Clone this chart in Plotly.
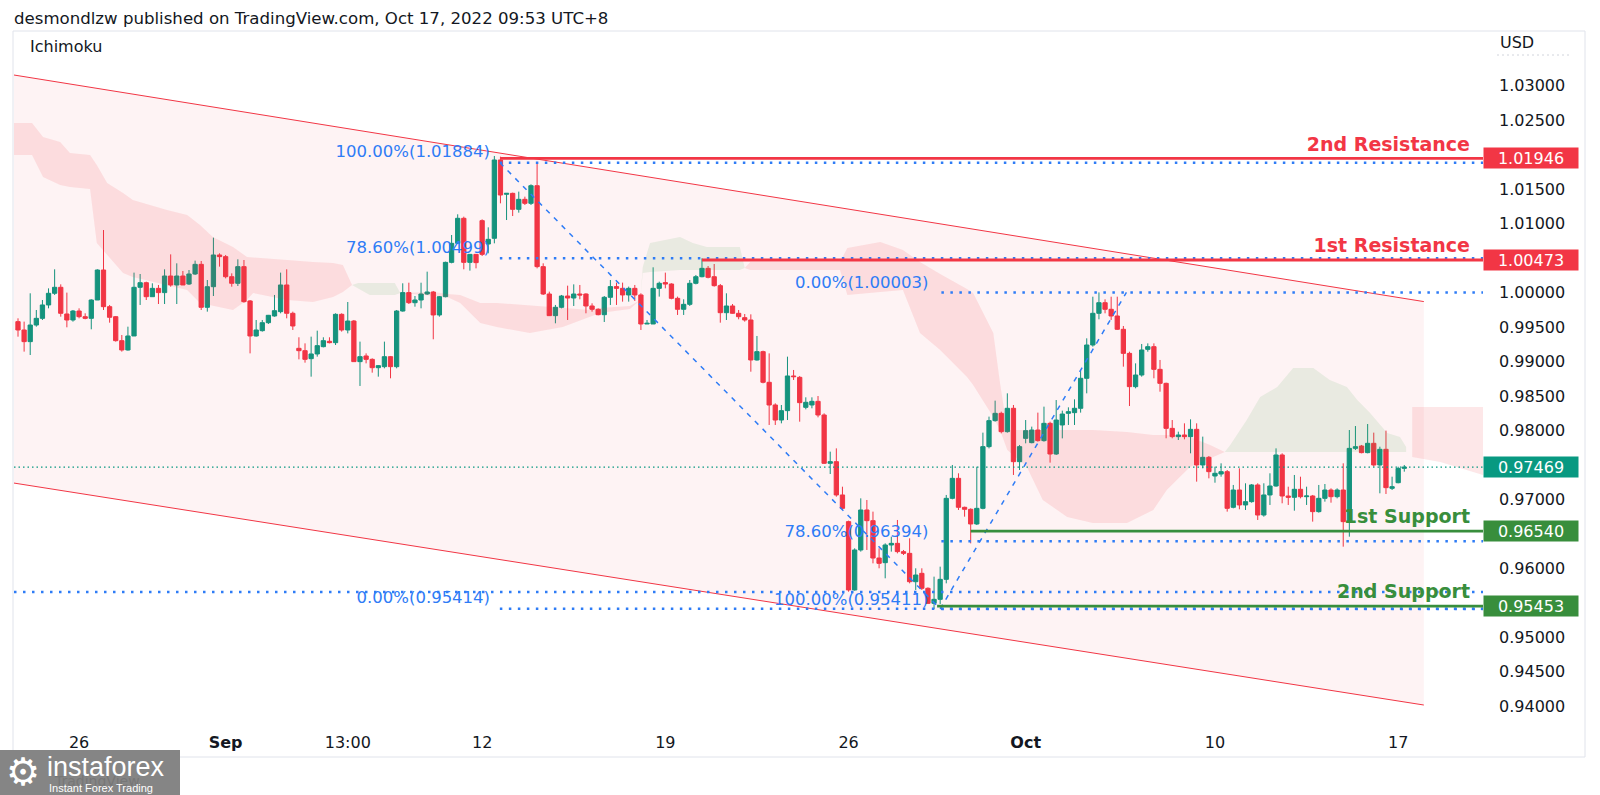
import plotly.graph_objects as go

# ---------------- data (EURUSD 4H, bar index 0..227) ----------------
opens = [
    0.99579, 0.99458, 0.99289, 0.99530, 0.99627, 0.99821, 0.99990, 1.00077, 0.99690, 0.99603,
    0.99733, 0.99651, 0.99627, 0.99893, 1.00328, 0.99796, 0.99651, 0.99303, 0.99168, 0.99371,
    1.00077, 1.00144, 0.99941, 1.00062, 1.00000, 1.00241, 1.00111, 1.00241, 1.00125, 1.00270,
    1.00410, 0.99787, 1.00086, 1.00546, 1.00522, 1.00231, 1.00135, 1.00377, 0.99879, 0.99371,
    0.99448, 0.99564, 0.99661, 0.99724, 1.00111, 0.99700, 0.99192, 0.99158, 0.99042, 0.99110,
    0.99216, 0.99294, 0.99274, 0.99685, 0.99458, 0.99588, 0.98999, 0.99081, 0.99032, 0.98911,
    0.98926, 0.99071, 0.98926, 0.99733, 1.00000, 0.99854, 0.99893, 0.99980, 1.00009, 0.99676,
    0.99941, 1.00439, 1.00715, 1.01078, 1.00439, 1.00555, 1.01044, 1.00705, 1.00788, 1.01924,
    1.01426, 1.01440, 1.01208, 1.01353, 1.01295, 1.01551, 1.00377, 0.99980, 0.99666, 0.99787,
    0.99951, 0.99922, 0.99980, 0.99980, 0.99806, 0.99758, 0.99680, 0.99932, 1.00087, 1.00062,
    0.99966, 1.00062, 0.99966, 0.99545, 0.99545, 1.00062, 1.00145, 1.00125, 0.99917, 0.99758,
    0.99830, 1.00135, 1.00231, 1.00352, 1.00231, 1.00101, 0.99709, 0.99806, 0.99700, 0.99637,
    0.99603, 0.99023, 0.99144, 0.98699, 0.98370, 0.98152, 0.98288, 0.98791, 0.98771, 0.98336,
    0.98370, 0.98423, 0.98225, 0.97524, 0.97548, 0.97065, 0.96678, 0.95687, 0.96267, 0.96847,
    0.96692, 0.96150, 0.96083, 0.96339, 0.96363, 0.96243, 0.96218, 0.95807, 0.95928, 0.95711,
    0.95493, 0.95551, 0.95841, 0.97016, 0.97306, 0.96886, 0.96857, 0.96644, 0.96871, 0.97766,
    0.98143, 0.98249, 0.97983, 0.98322, 0.97548, 0.97886, 0.97824, 0.98007, 0.97853, 0.98104,
    0.97659, 0.98080, 0.98249, 0.98259, 0.98322, 0.98757, 0.99240, 0.99700, 0.99854, 0.99758,
    0.99661, 0.99468, 0.99119, 0.98636, 0.98805, 0.99177, 0.99216, 0.98887, 0.98684, 0.98031,
    0.97911, 0.97935, 0.97911, 0.98017, 0.97500, 0.97611, 0.97340, 0.97369, 0.97403, 0.96886,
    0.97137, 0.96920, 0.96968, 0.97210, 0.96774, 0.97065, 0.97195, 0.97645, 0.97050, 0.97031,
    0.97147, 0.97040, 0.97050, 0.96823, 0.97016, 0.97137, 0.97040, 0.97137, 0.96678, 0.97741,
    0.97775, 0.97679, 0.97814, 0.97500, 0.97727, 0.97161, 0.97243, 0.97451,
]
highs = [
    0.99627, 0.99579, 0.99990, 0.99748, 0.99893, 1.00062, 1.00338, 1.00120, 1.00000, 0.99748,
    0.99772, 0.99700, 0.99903, 1.00338, 1.00908, 0.99821, 0.99661, 0.99385, 0.99506, 1.00290,
    1.00270, 1.00159, 1.00135, 1.00111, 1.00338, 1.00555, 1.00425, 1.00314, 1.00328, 1.00464,
    1.00459, 1.00183, 1.00797, 1.00570, 1.00546, 1.00280, 1.00483, 1.00473, 0.99893, 0.99603,
    0.99603, 0.99676, 0.99966, 1.00290, 1.00338, 0.99724, 0.99352, 0.99264, 0.99361, 0.99448,
    0.99352, 0.99352, 0.99700, 0.99700, 0.99864, 0.99603, 0.99289, 0.99119, 0.99047, 0.98950,
    0.99289, 0.99081, 0.99748, 1.00135, 1.00144, 0.99951, 1.00144, 1.00304, 1.00024, 0.99951,
    1.00449, 1.00836, 1.01136, 1.01102, 1.00555, 1.00560, 1.01063, 1.00947, 1.01982, 1.01972,
    1.01440, 1.01450, 1.01465, 1.01392, 1.01571, 1.01885, 1.00425, 1.00014, 0.99821, 0.99966,
    1.00101, 1.00120, 1.00111, 0.99990, 0.99845, 0.99772, 0.99951, 1.00183, 1.00145, 1.00145,
    1.00087, 1.00111, 0.99990, 0.99603, 1.00367, 1.00159, 1.00290, 1.00135, 0.99942, 0.99903,
    1.00183, 1.00256, 1.00497, 1.00386, 1.00415, 1.00125, 0.99990, 0.99835, 0.99748, 0.99690,
    0.99685, 0.99371, 0.99158, 0.99119, 0.98394, 0.98370, 0.99071, 0.98878, 0.98791, 0.98481,
    0.98481, 0.98500, 0.98249, 0.97693, 0.97741, 0.97185, 0.96692, 0.96291, 0.97016, 0.96992,
    0.96823, 0.96291, 0.96363, 0.96460, 0.96702, 0.96267, 0.96436, 0.96001, 0.96001, 0.95725,
    0.95880, 0.96025, 0.97065, 0.97500, 0.97379, 0.96895, 0.96871, 0.97475, 0.97969, 0.98201,
    0.98433, 0.98273, 0.98539, 0.98370, 0.97790, 0.98152, 0.98056, 0.98259, 0.98346, 0.98128,
    0.98442, 0.98288, 0.98336, 0.98452, 0.98878, 0.99337, 0.99941, 1.00003, 0.99903, 0.99941,
    0.99941, 0.99516, 0.99143, 0.98974, 0.99255, 0.99264, 0.99264, 0.99023, 0.98694, 0.98152,
    0.97983, 0.98104, 0.98162, 0.98104, 0.97911, 0.97630, 0.97475, 0.97524, 0.97427, 0.97210,
    0.97451, 0.97234, 0.97224, 0.97234, 0.97234, 0.97379, 0.97741, 0.97669, 0.97185, 0.97355,
    0.97330, 0.97185, 0.97065, 0.97210, 0.97224, 0.97161, 0.97161, 0.97524, 0.98007, 0.98065,
    0.97790, 0.98094, 0.97969, 0.97765, 0.97998, 0.97330, 0.97475, 0.97500,
]
lows = [
    0.99361, 0.99144, 0.99095, 0.99506, 0.99603, 0.99772, 0.99966, 0.99651, 0.99497, 0.99579,
    0.99627, 0.99613, 0.99468, 0.99893, 0.99748, 0.99564, 0.99289, 0.99144, 0.99158, 0.99371,
    0.99821, 0.99893, 0.99941, 0.99835, 0.99835, 1.00086, 0.99835, 1.00111, 1.00111, 1.00256,
    0.99748, 0.99724, 0.99951, 1.00377, 1.00207, 1.00086, 1.00096, 0.99854, 0.99119, 0.99361,
    0.99434, 0.99545, 0.99651, 0.99700, 0.99627, 0.99458, 0.99032, 0.98984, 0.98781, 0.99071,
    0.99206, 0.99264, 0.99240, 0.99434, 0.99409, 0.98999, 0.98646, 0.98974, 0.98839, 0.98781,
    0.98902, 0.98757, 0.98902, 0.99724, 0.99835, 0.99796, 0.99772, 0.99966, 0.99323, 0.99651,
    0.99932, 1.00425, 1.00715, 1.00338, 1.00319, 1.00352, 1.00531, 1.00570, 1.00715, 1.01295,
    1.01053, 1.01111, 1.01160, 1.01271, 1.01271, 1.00352, 0.99966, 0.99661, 0.99555, 0.99772,
    0.99603, 0.99806, 0.99903, 0.99700, 0.99724, 0.99671, 0.99574, 0.99821, 0.99821, 0.99869,
    0.99869, 0.99879, 0.99458, 0.99545, 0.99545, 0.99942, 1.00062, 0.99903, 0.99676, 0.99676,
    0.99806, 1.00120, 1.00222, 1.00207, 1.00087, 0.99564, 0.99603, 0.99695, 0.99613, 0.99579,
    0.98853, 0.99013, 0.98684, 0.98080, 0.98080, 0.98104, 0.98152, 0.98733, 0.98128, 0.98307,
    0.98322, 0.98191, 0.97515, 0.97369, 0.97040, 0.96847, 0.95662, 0.95677, 0.96243, 0.96267,
    0.96073, 0.96001, 0.95856, 0.96243, 0.96218, 0.96194, 0.95783, 0.95687, 0.95687, 0.95483,
    0.95411, 0.95483, 0.95783, 0.97002, 0.96847, 0.96750, 0.96363, 0.96629, 0.96857, 0.97741,
    0.98128, 0.97959, 0.97969, 0.97355, 0.97427, 0.97814, 0.97814, 0.97838, 0.97838, 0.97534,
    0.97645, 0.97886, 0.98080, 0.98080, 0.98259, 0.98539, 0.99216, 0.99613, 0.99700, 0.99603,
    0.99458, 0.98926, 0.98355, 0.98612, 0.98781, 0.99143, 0.98757, 0.98563, 0.97887, 0.97887,
    0.97862, 0.97872, 0.97669, 0.97258, 0.97451, 0.97306, 0.97243, 0.97330, 0.96823, 0.96871,
    0.96857, 0.96847, 0.96953, 0.96702, 0.96750, 0.96920, 0.97185, 0.96944, 0.96920, 0.96837,
    0.97016, 0.96920, 0.96678, 0.96808, 0.96968, 0.96953, 0.97016, 0.96315, 0.96460, 0.97717,
    0.97669, 0.97669, 0.97475, 0.97089, 0.97079, 0.97137, 0.97234, 0.97403,
]
closes = [
    0.99458, 0.99289, 0.99530, 0.99627, 0.99821, 0.99990, 1.00077, 0.99700, 0.99603, 0.99733,
    0.99651, 0.99627, 0.99893, 1.00328, 0.99796, 0.99642, 0.99303, 0.99168, 0.99371, 1.00077,
    1.00144, 0.99941, 1.00062, 1.00000, 1.00241, 1.00111, 1.00241, 1.00111, 1.00270, 1.00410,
    0.99787, 1.00086, 1.00546, 1.00522, 1.00231, 1.00135, 1.00377, 0.99869, 0.99371, 0.99458,
    0.99564, 0.99671, 0.99738, 1.00111, 0.99700, 0.99516, 0.99158, 0.99032, 0.99110, 0.99231,
    0.99303, 0.99274, 0.99685, 0.99458, 0.99588, 0.98999, 0.99071, 0.99032, 0.98911, 0.98941,
    0.99071, 0.98926, 0.99733, 1.00000, 0.99854, 0.99893, 0.99980, 1.00009, 0.99676, 0.99941,
    1.00439, 1.00715, 1.01078, 1.00439, 1.00555, 1.00435, 1.00555, 1.00773, 1.01924, 1.01416,
    1.01440, 1.01208, 1.01353, 1.01295, 1.01551, 1.00377, 0.99980, 0.99666, 0.99787, 0.99951,
    0.99922, 0.99980, 0.99966, 0.99806, 0.99758, 0.99680, 0.99932, 1.00087, 1.00062, 0.99966,
    1.00062, 0.99966, 0.99545, 0.99555, 1.00062, 1.00135, 1.00125, 0.99917, 0.99758, 0.99830,
    1.00135, 1.00231, 1.00352, 1.00222, 1.00101, 0.99709, 0.99806, 0.99700, 0.99651, 0.99603,
    0.99023, 0.99144, 0.98699, 0.98370, 0.98152, 0.98288, 0.98791, 0.98781, 0.98404, 0.98409,
    0.98423, 0.98225, 0.97524, 0.97548, 0.97065, 0.96871, 0.95687, 0.96267, 0.96847, 0.96692,
    0.96150, 0.96073, 0.96339, 0.96363, 0.96243, 0.96218, 0.95807, 0.95904, 0.95711, 0.95493,
    0.95551, 0.95841, 0.97016, 0.97306, 0.96886, 0.96857, 0.96644, 0.96871, 0.97766, 0.98143,
    0.98249, 0.97983, 0.98322, 0.97548, 0.97766, 0.97998, 0.98007, 0.97853, 0.98104, 0.97659,
    0.98152, 0.98239, 0.98273, 0.98322, 0.98757, 0.99240, 0.99700, 0.99854, 0.99758, 0.99661,
    0.99468, 0.99119, 0.98636, 0.98805, 0.99168, 0.99216, 0.98887, 0.98684, 0.98031, 0.97911,
    0.97935, 0.97911, 0.98017, 0.97500, 0.97611, 0.97403, 0.97379, 0.97403, 0.96871, 0.97137,
    0.96920, 0.96968, 0.97210, 0.96774, 0.97065, 0.97195, 0.97645, 0.97050, 0.97031, 0.97147,
    0.97040, 0.97050, 0.96823, 0.97016, 0.97137, 0.97040, 0.97137, 0.96678, 0.97741, 0.97765,
    0.97679, 0.97814, 0.97500, 0.97727, 0.97171, 0.97185, 0.97451, 0.97469,
]

# Ichimoku cloud (bar index, senkou span A, senkou span B)
cloud_x = [-0.7, 2.3, 4.1, 6.9, 8.5, 11.8, 12.9, 14.6, 17.2, 18.8, 24.4, 27.7, 29.8, 31.9, 35.2,
           37.5, 38.5, 44.1, 48.3, 51.6, 53.2, 54.7, 55.7, 57.6, 61.7, 62.6, 68.0, 70.3, 72.4,
           75.7, 78.4, 83.8, 89.2, 93.7, 95.3, 100.2, 101.9, 102.3, 103.5, 108.4, 110.5, 112.8,
           118.2, 119.0, 119.9, 134.6, 135.8, 141.2, 144.9, 147.7, 151.0, 155.4, 156.4, 159.7,
           160.8, 162.0, 165.2, 167.8, 171.8, 176.0, 181.6, 185.9, 188.1, 191.9, 195.2, 197.6,
           198.5, 201.2, 203.4, 206.2, 208.8, 212.1, 214.8, 217.6, 219.3, 221.4, 224.2, 226.3,
           227.3, 228.3, 232.9, 239.9]
span_a = [1.01996, 1.01996, 1.01677, 1.01561, 1.01532, 1.01503, 1.00720, 1.00546, 1.00285, 1.00227,
          1.00111, 1.00038, 0.99850, 0.99806, 0.99748, 0.99893, 0.99995, 0.99893, 0.99864, 0.99937,
          1.00009, 1.00111, 1.00140, 1.00140, 1.00140, 0.99995, 0.99951, 0.99937, 0.99850, 0.99559,
          0.99501, 0.99414, 0.99501, 0.99646, 0.99704, 0.99762, 0.99893, 1.00372, 1.00720, 1.00807,
          1.00720, 1.00662, 1.00662, 1.00357, 1.00328, 1.00328, 0.99966, 1.00009, 1.00038, 0.99414,
          0.99168, 0.98776, 0.98660, 0.98196, 0.98007, 0.97717, 0.97471, 0.96992, 0.96746, 0.96659,
          0.96659, 0.96847, 0.97137, 0.97471, 0.97601, 0.97688, 0.97790, 0.98152, 0.98486, 0.98631,
          0.98907, 0.98907, 0.98733, 0.98631, 0.98443, 0.98254, 0.97964, 0.97906, 0.97761, 0.97616,
          0.97543, 0.97355]
span_b = [1.02460, 1.02460, 1.02257, 1.02185, 1.02025, 1.01996, 1.01851, 1.01590, 1.01445, 1.01344,
          1.01199, 1.01126, 1.00981, 1.00807, 1.00662, 1.00517, 1.00502, 1.00473, 1.00444, 1.00430,
          1.00401, 1.00111, 1.00067, 0.99966, 0.99966, 0.99995, 1.00009, 0.99980, 0.99966, 0.99850,
          0.99850, 0.99821, 0.99777, 0.99748, 0.99777, 0.99806, 0.99893, 1.00285, 1.00299, 1.00328,
          1.00328, 1.00328, 1.00328, 1.00357, 1.00444, 1.00444, 1.00647, 1.00734, 1.00618, 1.00444,
          1.00270, 1.00052, 0.99995, 0.99414, 0.98689, 0.98007, 0.98007, 0.98007, 0.98007, 0.98007,
          0.97978, 0.97935, 0.97935, 0.97906, 0.97790, 0.97688, 0.97688, 0.97688, 0.97688, 0.97688,
          0.97688, 0.97688, 0.97688, 0.97688, 0.97688, 0.97688, 0.97688, 0.97688, 0.97688, 0.98341,
          0.98341, 0.98341]

# Parallel (descending) channel
channel_x = [-0.7, 230.2]
channel_upper = [1.03157, 0.99870]
channel_lower = [0.97238, 0.94018]

# Fibonacci retracements
fib1_levels = [1.01884, 1.00499, 0.95414]
fib1_labels = ["100.00%(1.01884)", "78.60%(1.00499)", "0.00%(0.95414)"]
fib1_start = 78.9
fib1_diag_x = [78.9, 151.0]
fib1_diag_y = [1.01884, 0.95414]
fib2_levels = [1.00003, 0.96394, 0.95411]
fib2_labels = ["0.00%(1.00003)", "78.60%(0.96394)", "100.00%(0.95411)"]
fib2_start = 151.2
fib2_diag_x = [151.0, 181.5]
fib2_diag_y = [0.95411, 1.00003]
extra_dotted_level = 0.95657

# Support / resistance
res_levels = [1.01946, 1.00473]
res_names = ["2nd Resistance", "1st Resistance"]
res_start = [79.0, 112.0]
sup_levels = [0.96540, 0.95453]
sup_names = ["1st Support", "2nd Support"]
sup_start = [156.0, 150.5]
last_price = 0.97469

# Axis ticks
x_tickvals = [10, 34, 54, 76, 106, 136, 165, 196, 226]
x_ticktext = ["26", "<b>Sep</b>", "13:00", "12", "19", "26", "<b>Oct</b>", "10", "17"]
y_tickvals = [1.030, 1.025, 1.015, 1.010, 1.000, 0.995, 0.990, 0.985, 0.980, 0.970,
              0.960, 0.950, 0.945, 0.940]

# ---------------- geometry / styling ----------------
W_FIG, H_FIG = 1600, 795
L, R, T, B = 14, 1483, 31, 725
PW, PH = R - L, B - T
BAR0_PX, BAR_PX = 18.0, 6.107
REF_PRICE, REF_PX, PX_PER_UNIT = 1.03, 85.8, 6894.0
x_lo = (L - BAR0_PX) / BAR_PX
x_hi = (R - BAR0_PX) / BAR_PX
y_hi = REF_PRICE + (REF_PX - T) / PX_PER_UNIT
y_lo = REF_PRICE - (B - REF_PX) / PX_PER_UNIT
LBL_LIFT = 3.0 / PX_PER_UNIT   # lift level-name texts by ~3 px


def pxx(X):
    return (X - L) / PW


def pxy(Y):
    return (B - Y) / PH


FONT = "DejaVu Sans"
TXT = "#131722"
RED = "#f23645"
TEAL = "#089981"
GREEN = "#388e3c"
BLUE = "#2e7cf6"

fig = go.Figure()

# channel background
fig.add_trace(go.Scatter(
    x=[channel_x[0], channel_x[1], channel_x[1], channel_x[0], channel_x[0]],
    y=[channel_upper[0], channel_upper[1], channel_lower[1], channel_lower[0], channel_upper[0]],
    mode="lines", fill="toself", fillcolor="rgba(242,54,69,0.06)",
    line=dict(width=0), hoverinfo="skip"))

# cloud segments (green where span A above span B, red otherwise)
segs = []
cur, cur_sign = [], None
for k in range(len(cloud_x)):
    d = span_a[k] - span_b[k]
    s = 0 if abs(d) < 1e-9 else (1 if d > 0 else -1)
    if s == 0:
        cur.append(k)
        if cur_sign is not None:
            segs.append((cur_sign, cur))
        cur, cur_sign = [k], None
    elif cur_sign is None or cur_sign == s:
        cur.append(k)
        cur_sign = s
    else:
        segs.append((cur_sign, cur))
        cur, cur_sign = [k], s
if cur_sign is not None:
    segs.append((cur_sign, cur))

for sgn, idx in segs:
    xs = [cloud_x[k] for k in idx] + [cloud_x[k] for k in reversed(idx)]
    ys = [span_a[k] for k in idx] + [span_b[k] for k in reversed(idx)]
    col = "rgba(67,160,71,0.11)" if sgn > 0 else "rgba(242,54,69,0.12)"
    fig.add_trace(go.Scatter(x=xs, y=ys, mode="lines", fill="toself", fillcolor=col,
                             line=dict(width=0), hoverinfo="skip"))

for yy in (channel_upper, channel_lower):
    fig.add_trace(go.Scatter(x=channel_x, y=yy, mode="lines",
                             line=dict(color=RED, width=1), hoverinfo="skip"))

# last price dotted line
fig.add_trace(go.Scatter(x=[x_lo, x_hi], y=[last_price, last_price], mode="lines",
                         line=dict(color=TEAL, width=1.2, dash="1.5px,3px"), hoverinfo="skip"))

DOT = "2.5px,6.5px"
for lv in fib1_levels:
    fig.add_trace(go.Scatter(x=[fib1_start, x_hi], y=[lv, lv], mode="lines",
                             line=dict(color=BLUE, width=2.5, dash=DOT), hoverinfo="skip"))
for lv in fib2_levels:
    fig.add_trace(go.Scatter(x=[fib2_start, x_hi], y=[lv, lv], mode="lines",
                             line=dict(color=BLUE, width=2.5, dash=DOT), hoverinfo="skip"))
fig.add_trace(go.Scatter(x=[x_lo, x_hi], y=[extra_dotted_level] * 2, mode="lines",
                         line=dict(color=BLUE, width=2.5, dash=DOT), hoverinfo="skip"))
fig.add_trace(go.Scatter(x=fib1_diag_x, y=fib1_diag_y, mode="lines",
                         line=dict(color=BLUE, width=1.5, dash="5px,6px"), hoverinfo="skip"))
fig.add_trace(go.Scatter(x=fib2_diag_x, y=fib2_diag_y, mode="lines",
                         line=dict(color=BLUE, width=1.5, dash="5px,6px"), hoverinfo="skip"))

# support / resistance lines
for lv, st in zip(res_levels, res_start):
    fig.add_trace(go.Scatter(x=[st, x_hi], y=[lv, lv], mode="lines",
                             line=dict(color=RED, width=2.8), hoverinfo="skip"))
for lv, st in zip(sup_levels, sup_start):
    fig.add_trace(go.Scatter(x=[st, x_hi], y=[lv, lv], mode="lines",
                             line=dict(color=GREEN, width=2.8), hoverinfo="skip"))

# fib labels (drawn under the candles)
fig.add_trace(go.Scatter(x=[fib1_start - 1.6] * 3, y=[v + LBL_LIFT / 2 for v in fib1_levels],
                         text=fib1_labels, mode="text", textposition="top left", cliponaxis=False,
                         textfont=dict(family=FONT, size=16.5, color=BLUE), hoverinfo="skip"))
fig.add_trace(go.Scatter(x=[fib2_start - 2.1] * 3, y=fib2_levels, text=fib2_labels,
                         mode="text", textposition="top left", cliponaxis=False,
                         textfont=dict(family=FONT, size=16.5, color=BLUE), hoverinfo="skip"))

# level names
lbl_x = (1470 - BAR0_PX) / BAR_PX
fig.add_trace(go.Scatter(x=[lbl_x] * 2, y=[v + LBL_LIFT for v in res_levels],
                         text=["<b>%s</b>" % n for n in res_names],
                         mode="text", textposition="top left", cliponaxis=False,
                         textfont=dict(family=FONT, size=19, color=RED), hoverinfo="skip"))
fig.add_trace(go.Scatter(x=[lbl_x] * 2, y=[v + LBL_LIFT for v in sup_levels],
                         text=["<b>%s</b>" % n for n in sup_names],
                         mode="text", textposition="top left", cliponaxis=False,
                         textfont=dict(family=FONT, size=19, color=GREEN), hoverinfo="skip"))

# candles
fig.add_trace(go.Candlestick(
    x=list(range(len(opens))), open=opens, high=highs, low=lows, close=closes,
    increasing=dict(line=dict(color=TEAL, width=1), fillcolor=TEAL),
    decreasing=dict(line=dict(color=RED, width=1), fillcolor=RED),
    whiskerwidth=0, hoverinfo="skip"))

annotations = []
shapes = []

# price boxes on the scale
for lv, col in [(res_levels[0], RED), (res_levels[1], RED), (last_price, TEAL),
                (sup_levels[0], GREEN), (sup_levels[1], GREEN)]:
    annotations.append(dict(x=1.0, xref="paper", y=lv, yref="y", xanchor="left", yanchor="middle",
                            text="%.5f" % lv, showarrow=False, bgcolor=col, width=94, height=20,
                            borderpad=0, font=dict(family=FONT, size=16, color="white")))

# header texts
annotations.append(dict(x=pxx(12), y=pxy(18), xref="paper", yref="paper", xanchor="left",
                        yanchor="middle", showarrow=False,
                        text="desmondlzw published on TradingView.com, Oct 17, 2022 09:53 UTC+8",
                        font=dict(family=FONT, size=16.6, color=TXT)))
annotations.append(dict(x=pxx(28), y=pxy(46), xref="paper", yref="paper", xanchor="left",
                        yanchor="middle", showarrow=False, text="Ichimoku",
                        font=dict(family=FONT, size=16, color=TXT)))
annotations.append(dict(x=pxx(1498), y=pxy(43), xref="paper", yref="paper", xanchor="left",
                        yanchor="middle", showarrow=False, text="USD",
                        font=dict(family=FONT, size=16, color=TXT)))

# widget border
for x0, y0, x1, y1 in [(13, 31, 1585, 31), (13, 31, 13, 757), (13, 757, 1585, 757),
                       (1585, 31, 1585, 757)]:
    shapes.append(dict(type="line", xref="paper", yref="paper", x0=pxx(x0), y0=pxy(y0),
                       x1=pxx(x1), y1=pxy(y1), line=dict(color="#e0e3eb", width=1)))
shapes.append(dict(type="line", xref="paper", yref="paper", x0=pxx(1497), y0=pxy(55),
                   x1=pxx(1570), y1=pxy(55), line=dict(color="#d1d4dc", width=1, dash="2px,3px")))

# instaforex badge (with the faint TradingView mark showing through)
shapes.append(dict(type="rect", xref="paper", yref="paper", x0=pxx(0), y0=pxy(750),
                   x1=pxx(180), y1=pxy(795), fillcolor="#858585", line=dict(width=0)))
annotations.append(dict(x=pxx(52), y=pxy(781), xref="paper", yref="paper", xanchor="left",
                        yanchor="middle", showarrow=False, text="TradingView",
                        font=dict(family=FONT, size=14, color="#777777")))
annotations.append(dict(x=pxx(23), y=pxy(772), xref="paper", yref="paper", xanchor="center",
                        yanchor="middle", showarrow=False, text="\u2699",
                        font=dict(family=FONT, size=38, color="white")))
annotations.append(dict(x=pxx(45), y=pxy(767), xref="paper", yref="paper", xanchor="left",
                        yanchor="middle", showarrow=False, text="instaforex",
                        font=dict(family="Liberation Sans", size=27, color="white")))
annotations.append(dict(x=pxx(47), y=pxy(788), xref="paper", yref="paper", xanchor="left",
                        yanchor="middle", showarrow=False, text="Instant Forex Trading",
                        font=dict(family="Liberation Sans", size=11, color="white")))

fig.update_layout(
    template="none",
    width=W_FIG, height=H_FIG,
    margin=dict(l=L, r=W_FIG - R, t=T, b=H_FIG - B, pad=0),
    paper_bgcolor="white", plot_bgcolor="white",
    showlegend=False, hovermode=False,
    boxgap=0.3, boxgroupgap=0,
    annotations=annotations, shapes=shapes,
    xaxis=dict(range=[x_lo, x_hi], showgrid=False, zeroline=False, showline=False,
               tickmode="array", tickvals=x_tickvals, ticktext=x_ticktext, ticks="",
               tickfont=dict(family=FONT, size=16, color=TXT), ticklabelstandoff=6,
               rangeslider=dict(visible=False), automargin=False, fixedrange=True),
    yaxis=dict(range=[y_lo, y_hi], side="right", showgrid=False, zeroline=False,
               showline=False, tickmode="array", tickvals=y_tickvals,
               ticktext=["%.5f" % v for v in y_tickvals], ticks="",
               tickfont=dict(family=FONT, size=16, color=TXT), ticklabelstandoff=15,
               automargin=False, fixedrange=True),
)

fig.write_html("out.html", config={"displayModeBar": False},
               post_script="document.body.style.margin='0px';document.body.style.overflow='hidden';")
